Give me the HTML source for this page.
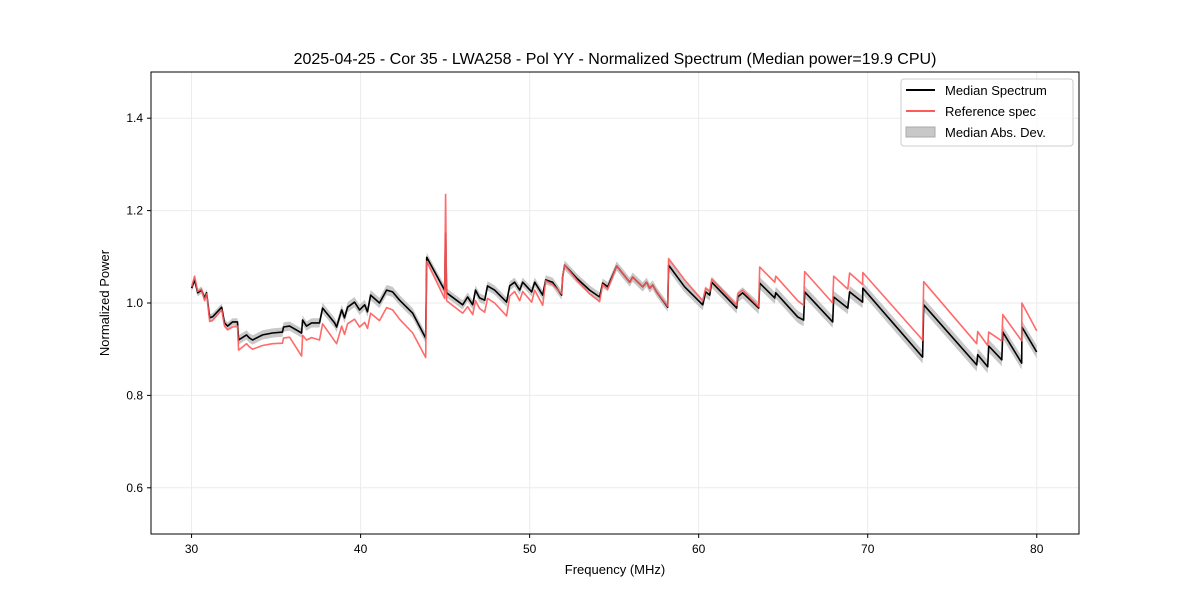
<!DOCTYPE html>
<html><head><meta charset="utf-8"><style>
body{margin:0;background:#fff;}
svg{display:block;font-family:"Liberation Sans","DejaVu Sans",sans-serif;}
</style></head><body>
<svg id="chart" width="1200" height="600" viewBox="0 0 1200 600">
<rect width="1200" height="600" fill="#fff"/>
<text x="615" y="64" text-anchor="middle" font-size="16">2025-04-25 - Cor 35 - LWA258 - Pol YY - Normalized Spectrum (Median power=19.9 CPU)</text>
<g id="grid"></g>
<g id="marks"></g>
<rect x="151" y="72" width="928" height="462" fill="none" stroke="#000" stroke-width="1"/>
<g id="axes"></g>
<text x="615" y="574" text-anchor="middle" font-size="13">Frequency (MHz)</text>
<text x="109" y="303" text-anchor="middle" font-size="13" transform="rotate(-90 109 303)">Normalized Power</text>
<g>
<rect x="901" y="79" width="172" height="67" rx="3" fill="#fff" fill-opacity="0.8" stroke="#ccc"/>
<line x1="906" y1="90" x2="935" y2="90" stroke="#000" stroke-width="2"/>
<text x="945" y="95" font-size="13">Median Spectrum</text>
<line x1="906" y1="111" x2="935" y2="111" stroke="#ff5a5a" stroke-width="2"/>
<text x="945" y="116" font-size="13">Reference spec</text>
<rect x="906" y="127" width="29" height="10" fill="#c8c8c8" stroke="#aaa"/>
<text x="945" y="137" font-size="13">Median Abs. Dev.</text>
</g>
</svg>
<script>
const freqs=[30.0,30.18,30.36,30.59,30.77,30.89,31.07,31.24,31.78,31.95,32.13,32.43,32.72,32.78,33.25,33.43,33.61,34.20,34.79,35.38,35.44,35.80,36.51,36.57,36.80,37.10,37.57,37.75,38.46,38.58,38.88,39.05,39.23,39.64,39.94,40.24,40.41,40.59,41.12,41.54,41.89,42.31,43.08,43.85,43.91,44.97,45.03,45.09,46.04,46.33,46.63,46.80,47.04,47.34,47.51,47.93,48.64,48.82,49.11,49.41,49.59,50.12,50.30,50.77,50.95,51.36,51.89,51.95,52.07,52.78,53.55,54.14,54.32,54.62,55.15,55.92,56.09,56.69,56.92,57.10,57.28,57.51,58.17,58.22,59.17,60.24,60.41,60.65,60.77,62.25,62.31,62.60,63.55,63.61,64.50,64.56,65.86,66.21,66.27,67.93,67.99,68.82,68.93,69.70,69.71,73.25,73.31,76.45,76.51,77.10,77.16,77.93,77.99,79.11,79.12,80.00];
const medianSpec=[1.032,1.050,1.022,1.028,1.011,1.022,0.968,0.970,0.991,0.957,0.950,0.959,0.959,0.920,0.931,0.924,0.920,0.931,0.935,0.937,0.948,0.950,0.935,0.963,0.950,0.957,0.957,0.989,0.957,0.948,0.985,0.968,0.991,1.002,0.985,0.996,0.981,1.017,1.000,1.028,1.024,1.006,0.978,0.924,1.099,1.028,1.151,1.022,0.996,1.013,0.996,1.028,1.011,1.006,1.037,1.028,1.002,1.037,1.045,1.028,1.045,1.024,1.045,1.017,1.050,1.045,1.017,1.056,1.082,1.054,1.028,1.013,1.043,1.035,1.080,1.045,1.056,1.035,1.045,1.032,1.039,1.024,0.991,1.082,1.035,0.996,1.024,1.017,1.045,0.989,1.013,1.022,0.989,1.043,1.011,1.022,0.970,0.963,1.024,0.959,1.013,0.989,1.024,1.002,1.032,0.883,0.996,0.866,0.888,0.862,0.907,0.877,0.937,0.870,0.948,0.894];
const refSpec=[1.035,1.058,1.025,1.030,1.005,1.020,0.960,0.962,0.985,0.950,0.942,0.948,0.950,0.898,0.912,0.905,0.900,0.908,0.912,0.913,0.924,0.926,0.885,0.930,0.920,0.925,0.920,0.955,0.918,0.912,0.950,0.932,0.955,0.965,0.948,0.958,0.945,0.978,0.962,0.990,0.985,0.965,0.935,0.882,1.090,1.010,1.235,1.005,0.978,0.992,0.975,1.005,0.988,0.980,1.010,1.000,0.972,1.015,1.025,1.005,1.025,1.002,1.028,0.995,1.048,1.040,1.020,1.056,1.082,1.050,1.020,1.003,1.040,1.030,1.080,1.045,1.056,1.035,1.045,1.032,1.039,1.024,0.993,1.096,1.050,1.005,1.032,1.025,1.052,0.995,1.020,1.028,0.992,1.078,1.045,1.058,1.005,0.995,1.068,1.000,1.058,1.030,1.065,1.040,1.066,0.920,1.046,0.912,0.938,0.908,0.937,0.918,0.975,0.918,1.000,0.940];
const madDev=[0.008,0.008,0.008,0.008,0.008,0.008,0.008,0.008,0.008,0.008,0.008,0.008,0.008,0.010,0.010,0.010,0.010,0.010,0.010,0.010,0.010,0.010,0.010,0.010,0.010,0.010,0.010,0.011,0.011,0.011,0.011,0.011,0.011,0.011,0.011,0.011,0.011,0.011,0.011,0.011,0.011,0.011,0.011,0.011,0.010,0.010,0.010,0.010,0.010,0.010,0.010,0.010,0.010,0.010,0.010,0.010,0.010,0.010,0.010,0.010,0.010,0.010,0.010,0.010,0.010,0.010,0.010,0.010,0.010,0.010,0.010,0.010,0.010,0.010,0.010,0.010,0.010,0.010,0.010,0.010,0.010,0.010,0.010,0.012,0.012,0.012,0.012,0.012,0.012,0.012,0.012,0.012,0.013,0.013,0.013,0.013,0.013,0.013,0.013,0.013,0.013,0.013,0.013,0.013,0.013,0.014,0.014,0.014,0.014,0.014,0.014,0.014,0.014,0.014,0.014,0.014];
const xTicks=[30,40,50,60,70,80];
const yTicks=[0.6,0.8,1.0,1.2,1.4];

const NS='http://www.w3.org/2000/svg';
const X0=151,X1=1079,Y0=72,Y1=534,XMIN=27.6,XMAX=82.5,YMIN=0.5,YMAX=1.5;
function xs(f){return X0+(f-XMIN)/(XMAX-XMIN)*(X1-X0);}
function ys(v){return Y1-(v-YMIN)/(YMAX-YMIN)*(Y1-Y0);}
function mk(tag,attrs,parent){const e=document.createElementNS(NS,tag);for(const k in attrs)e.setAttribute(k,attrs[k]);parent.appendChild(e);return e;}
const grid=document.getElementById('grid'),axes=document.getElementById('axes'),marks=document.getElementById('marks');
xTicks.forEach(t=>{
 const g=mk('line',{x1:xs(t),x2:xs(t),y1:Y0,y2:Y1,stroke:'#ebebeb','stroke-width':1},grid);
 
 
 const tk=mk('line',{x1:xs(t),x2:xs(t),y1:Y1,y2:Y1+4,stroke:'#000'},axes);
 
 
 const tx=mk('text',{x:xs(t),y:Y1+19,'text-anchor':'middle','font-size':12},axes);
 tx.textContent=t;
 
 
});
yTicks.forEach(t=>{
 const g=mk('line',{x1:X0,x2:X1,y1:ys(t),y2:ys(t),stroke:'#ebebeb','stroke-width':1},grid);
 
 
 const tk=mk('line',{x1:X0-4,x2:X0,y1:ys(t),y2:ys(t),stroke:'#000'},axes);
 
 
 const tx=mk('text',{x:X0-8,y:ys(t)+4,'text-anchor':'end','font-size':12},axes);
 tx.textContent=t.toFixed(1);
 
 
});
let up='',dn='';
freqs.forEach((f,i)=>{const m=madDev[i]||0.012;up+=(i?'L':'M')+xs(f).toFixed(1)+','+ys(medianSpec[i]+m).toFixed(1);});
for(let i=freqs.length-1;i>=0;i--){const m=madDev[i]||0.012;dn+='L'+xs(freqs[i]).toFixed(1)+','+ys(medianSpec[i]-m).toFixed(1);}
const band=mk('path',{d:up+dn+'Z',fill:'#c8c8c8',stroke:'none'},marks);


function linePath(arr){return freqs.map((f,i)=>(i?'L':'M')+xs(f).toFixed(1)+','+ys(arr[i]).toFixed(1)).join('');}
const med=mk('path',{d:linePath(medianSpec),fill:'none',stroke:'#000','stroke-width':1.6,'stroke-linejoin':'round'},marks);


const ref=mk('path',{d:linePath(refSpec),fill:'none',stroke:'#ff5a5a','stroke-width':1.6,'stroke-opacity':0.9,'stroke-linejoin':'round'},marks);


</script>
</body></html>
